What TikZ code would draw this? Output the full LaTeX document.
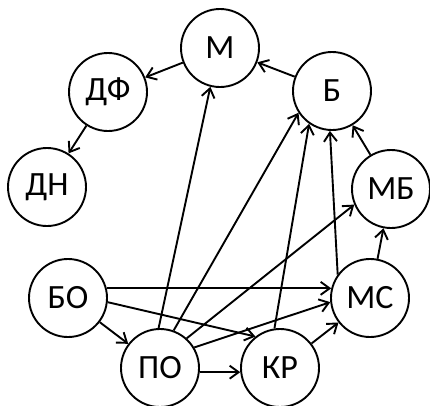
\documentclass[tikz,border=0pt]{standalone}
\usepackage{fontspec}
\setmainfont{Carlito}
\usetikzlibrary{arrows.meta}
\begin{document}
\begin{tikzpicture}[x=1pt,y=-1pt,
  nd/.style={circle,draw,line width=1.9pt,minimum size=78pt,inner sep=0pt,font=\fontsize{34}{36}\selectfont},
  ar/.style={-{Straight Barb[length=9pt,width=13pt,line width=1.9pt]},line width=1.9pt}]
\useasboundingbox (0,0) rectangle (430,405);
\node[nd] (M) at (220,48) {М};
\node[nd] (DF) at (108,92) {ДФ};
\node[nd] (B) at (332,91) {Б};
\node[nd] (DN) at (47,187) {ДН};
\node[nd] (MB) at (391,189) {МБ};
\node[nd] (BO) at (68,298) {БО};
\node[nd] (MS) at (370,298) {МС};
\node[nd] (PO) at (160,368) {ПО};
\node[nd] (KR) at (280,368) {КР};
\draw[ar] (M) -- (DF);
\draw[ar] (B) -- (M);
\draw[ar] (DF) -- (DN);
\draw[ar] (MB) -- (B);
\draw[ar] (MS) -- (MB);
\draw[ar] (MS.144) -- (B.267);
\draw[ar] (KR.98) -- (B.235);
\draw[ar] (PO.70) -- (B.213);
\draw[ar] (PO.92) -- (M.-104);
\draw[ar] (PO.48) -- (MB.203);
\draw[ar] (PO.31) -- (MS.186);
\draw[ar] (PO.-6) -- (KR.186);
\draw[ar] (BO.14) -- (MS.166);
\draw[ar] (BO.-6) -- (KR.128);
\draw[ar] (BO) -- (PO);
\draw[ar] (KR) -- (MS);
\end{tikzpicture}
\end{document}
